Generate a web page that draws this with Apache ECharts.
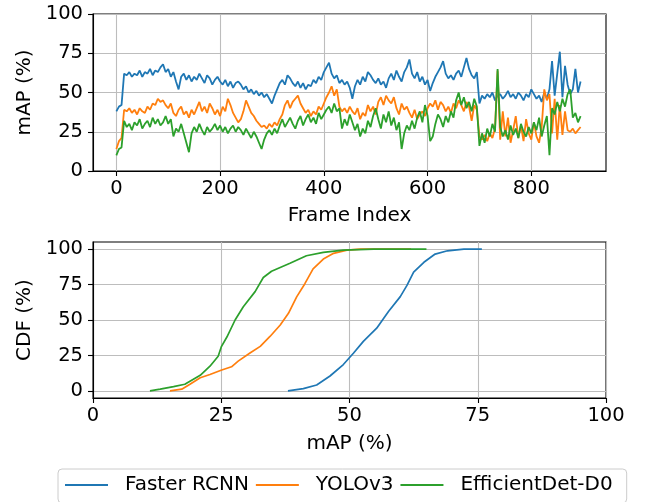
<!DOCTYPE html>
<html>
<head>
<meta charset="utf-8">
<script src="https://cdn.jsdelivr.net/npm/echarts@6/dist/echarts.min.js"></script>
<style>
html,body{margin:0;padding:0;background:#fff;}
#chart{width:646px;height:502px;}
</style>
</head>
<body>
<div id="chart"></div>
<script>
// ---------------- data ----------------
const seriesNames = ['Faster RCNN', 'YOLOv3', 'EfficientDet-D0'];
const FRAME_STEP = 5; // one sample every 5 frames (0 ... 895)

const fasterRcnnMap = [
  38,41,42,62,61,63,60,62,61,64,
  60,63,62,65,61,64,63,66,68,63,
  65,60,63,57,52,60,62,58,61,57,
  60,58,62,59,56,61,59,55,58,60,
  57,55,58,54,57,53,56,57,55,52,
  54,50,52,49,51,48,50,47,49,46,
  43,48,52,56,58,55,61,59,56,54,
  57,53,56,52,55,54,58,56,60,58,
  63,66,69,62,59,61,56,58,55,57,
  53,46,54,58,55,60,57,63,61,58,
  56,59,55,57,53,59,62,58,64,60,
  57,63,66,71,62,59,63,57,60,55,
  58,51,56,60,63,66,70,62,59,61,
  58,62,64,60,66,72,65,61,59,63,
  43,48,46,49,47,50,45,48,49,46,
  48,51,47,49,46,50,48,45,49,47,
  52,49,46,48,44,50,46,52,70,48,
  62,76,47,67,55,49,52,65,50,57
];
const yolov3Map = [
  14,19,21,39,38,40,37,39,36,40,
  38,37,41,39,43,42,46,44,45,42,
  40,43,37,35,39,41,36,38,34,39,
  36,40,44,38,41,37,43,40,36,39,
  35,41,38,46,42,37,34,31,33,38,
  45,41,37,35,32,30,28,29,27,30,
  28,31,29,33,36,42,45,40,44,46,
  48,43,40,37,39,35,38,36,41,39,
  43,47,50,54,48,52,41,38,40,37,
  41,38,36,40,33,37,35,42,38,41,
  36,44,47,42,48,45,43,47,40,36,
  43,39,41,37,34,39,33,36,38,35,
  40,43,41,45,39,44,42,38,41,37,
  43,40,45,42,38,44,41,32,42,39,
  22,20,23,19,24,21,27,64,20,38,
  22,34,18,26,35,21,29,19,33,24,
  20,31,22,18,28,52,45,49,24,46,
  20,42,23,38,26,25,27,24,26,28
];
const efficientDetMap = [
  10,14,15,32,28,30,26,31,29,33,
  27,30,32,28,34,30,33,29,31,35,
  30,33,22,27,25,30,24,18,12,24,
  28,25,30,26,23,28,25,27,30,26,
  29,25,28,24,27,29,25,28,26,23,
  27,24,21,25,22,18,14,20,24,26,
  23,27,24,29,33,28,31,34,30,27,
  32,35,29,33,36,31,34,30,37,33,
  36,39,41,37,43,38,40,27,33,29,
  36,31,26,30,22,27,24,32,28,35,
  40,33,27,36,31,38,29,34,26,31,
  14,24,29,26,32,27,34,38,31,42,
  35,19,22,30,36,33,28,35,31,38,
  34,45,50,42,47,40,44,38,46,41,
  16,24,18,27,22,30,25,65,28,22,
  26,20,29,23,27,21,30,25,22,28,
  24,31,26,34,22,29,35,10,40,36,
  44,38,46,41,49,52,34,37,31,35
];

// CDF curves: mAP (%) vs cumulative percentage
const cdfFasterX = [38,41,43.6,46.2,48.8,50.8,52.7,55.3,57.6,59.9,61.2,62.5,64.5,66.7,69.1,72.3,75.8];
const cdfFasterY = [0,1.6,4.2,10.5,18.6,26.7,34.9,44.2,56,66.5,74.4,83.7,90.7,96.5,98.8,100,100];
const cdfYoloX = [15,17.3,18.9,20.9,22.8,25.1,27.0,28.3,30.6,32.6,34.5,36.5,38.1,39.7,41.3,42.9,44.9,46.9,49.5,52.1,62];
const cdfYoloY = [0,1.2,4.7,9.3,11.6,14.7,17,21,26.7,31.4,38.4,46.5,54.7,66.3,75.6,86,93,97,99.3,100,100];
const cdfEffX = [11.1,13.1,15.7,17.9,20.9,22.8,24.4,25.0,26.1,27.7,29.3,31.6,33.2,34.8,38.4,41.6,44.9,48.8,54.7,65];
const cdfEffY = [0,1.2,3,4.7,11,17.4,24.4,31,38,50,59.3,70,80,84.4,90,95.3,97.7,99.3,100,100];

const frameTicks = [0,200,400,600,800];
const mapTicks = [0,25,50,75,100];
const cdfTicks = [0,25,50,75,100];

// ---------------- chart ----------------
const colors = ['#1f77b4', '#ff7f0e', '#2ca02c'];
const FONT = 'DejaVu Sans';
const FS = 19.5;
const FS_NAME = 20;

function withFrames(vals) {
  return vals.map((v, i) => [i * FRAME_STEP, v]);
}
function pairs(xs, ys) {
  return xs.map((x, i) => [x, ys[i]]);
}

const axisLineStyle = { show: true, onZero: false, lineStyle: { color: '#000', width: 1.1 } };
const tickStyle = { show: true, length: 5, lineStyle: { color: '#000', width: 1.1 } };
const splitStyle = { show: true, lineStyle: { color: '#bdbdbd', width: 1.1 } };
const labelStyle = { color: '#000', fontFamily: FONT, fontSize: FS };
const nameStyle = { color: '#000', fontFamily: FONT, fontSize: FS_NAME };

const chart = echarts.init(document.getElementById('chart'), null, { renderer: 'canvas' });

const option = {
  animation: false,
  backgroundColor: '#fff',
  color: colors,
  grid: [
    { left: 93, top: 14, width: 513, height: 157, show: true, borderColor: '#000', borderWidth: 1.1, backgroundColor: 'transparent' },
    { left: 93, top: 242, width: 513, height: 156, show: true, borderColor: '#000', borderWidth: 1.1, backgroundColor: 'transparent' }
  ],
  legend: {
    data: seriesNames,
    left: 58,
    top: 469,
    orient: 'horizontal',
    icon: 'rect',
    itemWidth: 43,
    itemHeight: 2,
    itemGap: 7,
    padding: [6, 14, 8, 7],
    borderColor: '#cccccc',
    borderWidth: 1,
    borderRadius: 4,
    backgroundColor: 'rgba(255,255,255,0.8)',
    textStyle: { color: '#000', fontFamily: FONT, fontSize: FS_NAME, padding: [0, 0, 0, 12] }
  },
  xAxis: [
    {
      gridIndex: 0, type: 'value', min: -45, max: 944,
      axisLine: axisLineStyle,
      axisTick: Object.assign({}, tickStyle, { customValues: frameTicks }),
      axisLabel: Object.assign({}, labelStyle, { customValues: frameTicks, margin: 8 }),
      splitLine: splitStyle,
      name: 'Frame Index', nameLocation: 'middle', nameGap: 35, nameTextStyle: nameStyle
    },
    {
      gridIndex: 1, type: 'value', min: 0, max: 100, interval: 25,
      axisLine: axisLineStyle,
      axisTick: Object.assign({}, tickStyle, { customValues: mapTicks }),
      axisLabel: Object.assign({}, labelStyle, { customValues: mapTicks, margin: 8 }),
      splitLine: splitStyle,
      name: 'mAP (%)', nameLocation: 'middle', nameGap: 36, nameTextStyle: nameStyle
    }
  ],
  yAxis: [
    {
      gridIndex: 0, type: 'value', min: 0, max: 100, interval: 25,
      axisLine: axisLineStyle,
      axisTick: Object.assign({}, tickStyle, { customValues: mapTicks }),
      axisLabel: Object.assign({}, labelStyle, { customValues: mapTicks, margin: 10 }),
      splitLine: splitStyle,
      name: 'mAP (%)', nameLocation: 'middle', nameGap: 53, nameRotate: 90, nameTextStyle: nameStyle
    },
    {
      gridIndex: 1, type: 'value', min: -5, max: 105,
      axisLine: axisLineStyle,
      axisTick: Object.assign({}, tickStyle, { customValues: cdfTicks }),
      axisLabel: Object.assign({}, labelStyle, { customValues: cdfTicks, margin: 10 }),
      splitLine: splitStyle,
      name: 'CDF (%)', nameLocation: 'middle', nameGap: 53, nameRotate: 90, nameTextStyle: nameStyle
    }
  ],
  series: [
    { name: seriesNames[0], type: 'line', xAxisIndex: 0, yAxisIndex: 0, data: withFrames(fasterRcnnMap), showSymbol: false, lineStyle: { width: 1.8, color: colors[0] }, itemStyle: { color: colors[0] }, z: 3 },
    { name: seriesNames[1], type: 'line', xAxisIndex: 0, yAxisIndex: 0, data: withFrames(yolov3Map), showSymbol: false, lineStyle: { width: 1.8, color: colors[1] }, itemStyle: { color: colors[1] }, z: 4 },
    { name: seriesNames[2], type: 'line', xAxisIndex: 0, yAxisIndex: 0, data: withFrames(efficientDetMap), showSymbol: false, lineStyle: { width: 1.8, color: colors[2] }, itemStyle: { color: colors[2] }, z: 5 },
    { name: seriesNames[0], type: 'line', xAxisIndex: 1, yAxisIndex: 1, data: pairs(cdfFasterX, cdfFasterY), showSymbol: false, lineStyle: { width: 1.7, color: colors[0] }, itemStyle: { color: colors[0] }, z: 3 },
    { name: seriesNames[1], type: 'line', xAxisIndex: 1, yAxisIndex: 1, data: pairs(cdfYoloX, cdfYoloY), showSymbol: false, lineStyle: { width: 1.7, color: colors[1] }, itemStyle: { color: colors[1] }, z: 4 },
    { name: seriesNames[2], type: 'line', xAxisIndex: 1, yAxisIndex: 1, data: pairs(cdfEffX, cdfEffY), showSymbol: false, lineStyle: { width: 1.7, color: colors[2] }, itemStyle: { color: colors[2] }, z: 5 }
  ]
};
chart.setOption(option);
</script>
</body>
</html>
